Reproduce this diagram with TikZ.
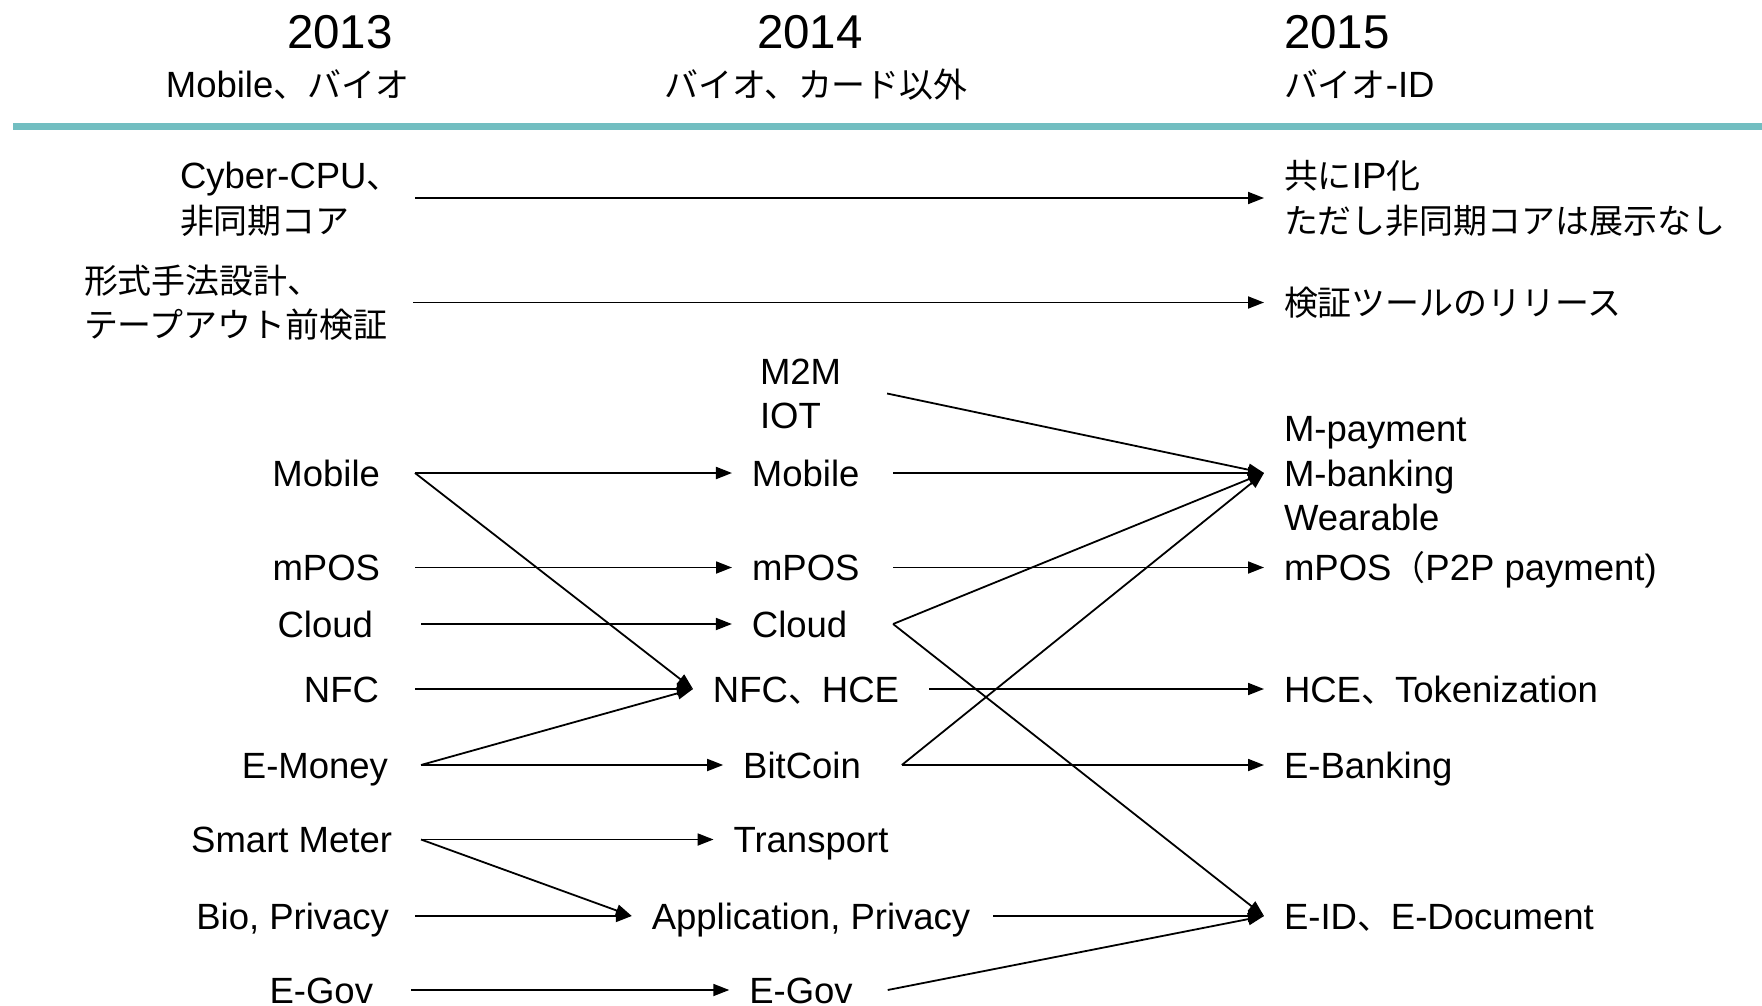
\documentclass[tikz,border=0pt]{standalone}
\usepackage{fontspec}
\setmainfont{Liberation Sans}
\newfontfamily\jpfont{Noto Sans CJK JP}[Scale=0.93]
\usetikzlibrary{arrows.meta}
\newcommand\jtx[1]{{\jpfont #1}}
% strut from -0.25em to 0.966em: the box centre sits at the middle of the capitals
\newcommand\tstrut{\rule[-0.25em]{0pt}{1.216em}}
\definecolor{rulecol}{HTML}{72BEC1}

\begin{document}
\begin{tikzpicture}[x=1pt,y=-1pt,
  lbl/.style={inner sep=0pt, outer sep=0pt, align=left,
              font=\fontsize{36.5}{44.6}\selectfont},
  yr/.style={inner sep=0pt, outer sep=0pt, font=\fontsize{47.5}{58}\selectfont},
  tgt/.style={lbl, outer xsep=20pt},
  arr/.style={line width=1.8pt, -{Triangle[length=16pt,width=12pt]}},
]
\useasboundingbox[fill=white] (0,0) rectangle (1762,1006);

% year headings
\node[yr] (y13) at (340,31) {\tstrut 2013};
\node[lbl] (s13) at (287.5,84) {\tstrut Mobile\jtx{、バイオ}};
\node[yr] (y14) at (810,31) {\tstrut 2014};
\node[lbl] (s14) at (816,84) {\tstrut\jtx{バイオ、カード以外}};
\node[yr,anchor=west] (y15) at (1284,31) {\tstrut 2015};
\node[lbl,anchor=west] (s15) at (1284,84) {\tstrut\jtx{バイオ}-ID};
\draw[rulecol, line width=7pt] (13,126.5) -- (1762,126.5);

% 2013 column
\node[lbl,anchor=west] (cyb) at (180,198) {\tstrut Cyber-CPU\jtx{、}\\\tstrut\jtx{非同期コア}};
\node[lbl,anchor=west] (kei) at (84,302.5) {\tstrut\jtx{形式手法設計、}\\\tstrut\jtx{テープアウト前検証}};
\node[lbl,anchor=east] (mobL)   at (380,473)   {\tstrut Mobile};
\node[lbl,anchor=east] (mposL)  at (380,567.5) {\tstrut mPOS};
\node[lbl,anchor=east] (cloudL) at (373,624)   {\tstrut Cloud};
\node[lbl,anchor=east] (nfcL)   at (379,689)   {\tstrut NFC};
\node[lbl,anchor=east] (emonL)  at (388,765)   {\tstrut E-Money};
\node[lbl,anchor=east] (smartL) at (392,839.5) {\tstrut Smart Meter};
\node[lbl,anchor=east] (bioL)   at (389,916)   {\tstrut Bio, Privacy};
\node[lbl,anchor=east] (egovL)  at (373,990)   {\tstrut E-Gov};

% 2014 column
\node[lbl,anchor=west] (m2m) at (760,393.5) {\tstrut M2M\\\tstrut IOT};
\node[tgt] (mobM)   at (805.75,473)  {\tstrut Mobile};
\node[tgt] (mposM)  at (805.75,567.5){\tstrut mPOS};
\node[tgt] (cloudM) at (799.6,624)   {\tstrut Cloud};
\node[tgt] (nfcM)   at (806,689)     {\tstrut NFC\jtx{、}HCE};
\node[tgt] (bitM)   at (802,765)     {\tstrut BitCoin};
\node[tgt] (transM) at (811,839.5)   {\tstrut Transport};
\node[tgt] (appM)   at (811,916)     {\tstrut Application, Privacy};
\node[tgt] (egovM)  at (801,990)     {\tstrut E-Gov};

% 2015 column
\node[tgt,anchor=west] (ipR)    at (1264,198)   {\tstrut\jtx{共に}IP\jtx{化}\\\tstrut\jtx{ただし非同期コアは展示なし}};
\node[tgt,anchor=west] (verR)   at (1264,302.5) {\tstrut\jtx{検証ツールのリリース}};
\node[tgt,anchor=west] (payR)   at (1264,473)   {\tstrut M-payment\\\tstrut M-banking\\\tstrut Wearable};
\node[tgt,anchor=west] (mposR)  at (1264,567.5) {\tstrut mPOS\jtx{（}P2P payment)};
\node[tgt,anchor=west] (hceR)   at (1264,689)   {\tstrut HCE\jtx{、}Tokenization};
\node[tgt,anchor=west] (ebankR) at (1264,765)   {\tstrut E-Banking};
\node[tgt,anchor=west] (eidR)   at (1264,916)   {\tstrut E-ID\jtx{、}E-Document};

% 2013 -> 2015
\draw[arr] ([xshift=14.5pt]cyb.east) -- (ipR.west);
\draw[arr] ([xshift=26pt]kei.east) -- (verR.west);

% 2013 -> 2014
\draw[arr] ([xshift=35pt]mobL.east)   -- (mobM.west);
\draw[arr] ([xshift=35pt]mobL.east)   -- (nfcM.west);
\draw[arr] ([xshift=35pt]mposL.east)  -- (mposM.west);
\draw[arr] ([xshift=48pt]cloudL.east) -- (cloudM.west);
\draw[arr] ([xshift=36pt]nfcL.east)   -- (nfcM.west);
\draw[arr] ([xshift=33pt]emonL.east)  -- (nfcM.west);
\draw[arr] ([xshift=33pt]emonL.east)  -- (bitM.west);
\draw[arr] ([xshift=29pt]smartL.east) -- (transM.west);
\draw[arr] ([xshift=29pt]smartL.east) -- (appM.west);
\draw[arr] ([xshift=26pt]bioL.east)   -- (appM.west);
\draw[arr] ([xshift=38pt]egovL.east)  -- (egovM.west);

% 2014 -> 2015
\draw[arr] ([xshift=46pt]m2m.east)      -- (payR.west);
\draw[arr] ([xshift=13.5pt]mobM.east)   -- (payR.west);
\draw[arr] ([xshift=13.5pt]mposM.east)  -- (mposR.west);
\draw[arr] ([xshift=25.8pt]cloudM.east) -- (payR.west);
\draw[arr] ([xshift=25.8pt]cloudM.east) -- (eidR.west);
\draw[arr] ([xshift=10pt]nfcM.east)     -- (hceR.west);
\draw[arr] ([xshift=21pt]bitM.east)     -- (payR.west);
\draw[arr] ([xshift=21pt]bitM.east)     -- (ebankR.west);
\draw[arr] ([xshift=3pt]appM.east)      -- (eidR.west);
\draw[arr] ([xshift=15pt]egovM.east)    -- (eidR.west);
\end{tikzpicture}
\end{document}
